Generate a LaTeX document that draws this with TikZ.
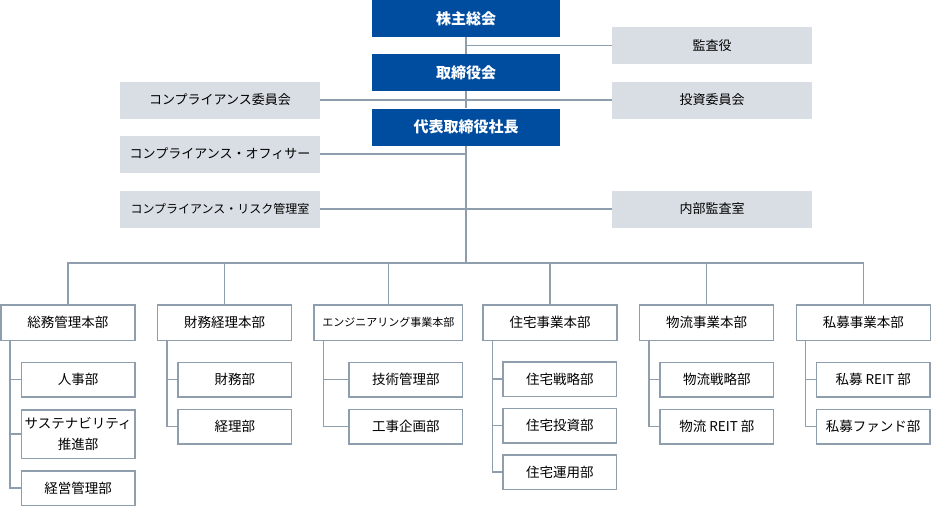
\documentclass[tikz,border=0pt]{standalone}
\usepackage{fontspec}
\setmainfont{Noto Sans CJK JP}
\usepackage{xcolor}
\usetikzlibrary{positioning, calc}
\definecolor{boardblue}{HTML}{004DA0}
\definecolor{sidegray}{HTML}{D9DEE4}
\definecolor{linegray}{HTML}{8E9EAC}

\begin{document}
\begin{tikzpicture}[x=1pt, y=-1pt,
    topbox/.style={fill=boardblue, text=white, font=\fontsize{15}{18}\selectfont\bfseries, minimum width=188pt, minimum height=37pt, inner sep=0pt},
    sidebox/.style={fill=sidegray, font=\fontsize{13}{16}\selectfont, minimum width=200pt, minimum height=37pt, inner sep=0pt},
    deptbox/.style={draw=linegray, line width=1.5pt, fill=white, font=\fontsize{13.5}{20.5}\selectfont, align=center, minimum width=134pt, minimum height=35.5pt, inner sep=0pt},
    subbox/.style={deptbox, minimum width=113.5pt, minimum height=34.5pt},
    link/.style={draw=linegray, line width=1.5pt}]
      \useasboundingbox (0,0) rectangle (932,507);

      % top of the chart
      \node[topbox] (soukai) at (466,18.5) {株主総会};
      \node[topbox] (torishimari) at (466,72.5) {取締役会};
      \node[topbox] (shacho) at (466,127) {代表取締役社長};

      \node[sidebox] (kansa) at (712,45.5) {監査役};
      \node[sidebox] (compiin) at (220,100) {コンプライアンス委員会};
      \node[sidebox] (toushi) at (712,100) {投資委員会};
      \node[sidebox] (officer) at (220,154) {コンプライアンス・オフィサー};
      \node[sidebox, font=\fontsize{12}{14}\selectfont] (risk) at (220,209) {コンプライアンス・リスク管理室};
      \node[sidebox] (naibu) at (712,209) {内部監査室};

      \coordinate (bus) at (466,263);
      \draw[link] (soukai) -- (torishimari);
      \draw[link] (torishimari) -- (shacho);
      \draw[link] (shacho) -- (bus);
      \draw[link] (kansa.west) -- (kansa.west -| soukai.south);
      \draw[link] (compiin) -- (toushi);
      \draw[link] (officer.east) -- (officer.east -| shacho.south);
      \draw[link] (risk) -- (naibu);

      % departments
      \node[deptbox] (d1) at (67.8,322.5) {総務管理本部};
      \node[deptbox] (d2) at (224.5,322.5) {財務経理本部};
      \node[deptbox, minimum width=148.5pt, font=\fontsize{11}{13}\selectfont] (d3) at (388.3,322.5) {エンジニアリング事業本部};
      \node[deptbox] (d4) at (550,322.5) {住宅事業本部};
      \node[deptbox] (d5) at (706.7,322.5) {物流事業本部};
      \node[deptbox] (d6) at (863.3,322.5) {私募事業本部};

      \draw[link] (d1.north) |- (bus) -| (d6.north);
      \foreach \d in {d2,d3,d4,d5}
        \draw[link] (\d.north) -- (\d.north |- bus);

      % sections
      \node[subbox] (s11) at (78.1,379.5) {人事部};
      \node[subbox, minimum height=48.5pt] (s12) at (78.1,434) {サステナビリティ\\推進部};
      \node[subbox] (s13) at (78.1,488) {経営管理部};
      \node[subbox] (s21) at (234.8,379.5) {財務部};
      \node[subbox] (s22) at (234.8,426.5) {経理部};
      \node[subbox] (s31) at (405.8,379.5) {技術管理部};
      \node[subbox] (s32) at (405.8,426.5) {工事企画部};
      \node[subbox] (s41) at (559.8,379) {住宅戦略部};
      \node[subbox] (s42) at (559.8,425.5) {住宅投資部};
      \node[subbox] (s43) at (559.8,472) {住宅運用部};
      \node[subbox] (s51) at (716.8,379.5) {物流戦略部};
      \node[subbox] (s52) at (716.8,426.5) {物流 REIT 部};
      \node[subbox] (s61) at (873.2,379.5) {私募 REIT 部};
      \node[subbox] (s62) at (873.2,426.5) {私募ファンド部};

      \foreach \n/\last in {1/s13, 2/s22, 3/s32, 4/s43, 5/s52, 6/s62} {
        \coordinate (t\n) at ([xshift=10pt]d\n.south west);
        \draw[link] (t\n) |- (\last.west);
      }
      \foreach \s/\n in {s11/1, s12/1, s21/2, s31/3, s41/4, s42/4, s51/5, s61/6}
        \draw[link] (\s.west) -- (\s.west -| t\n);
    \end{tikzpicture}
\end{document}
